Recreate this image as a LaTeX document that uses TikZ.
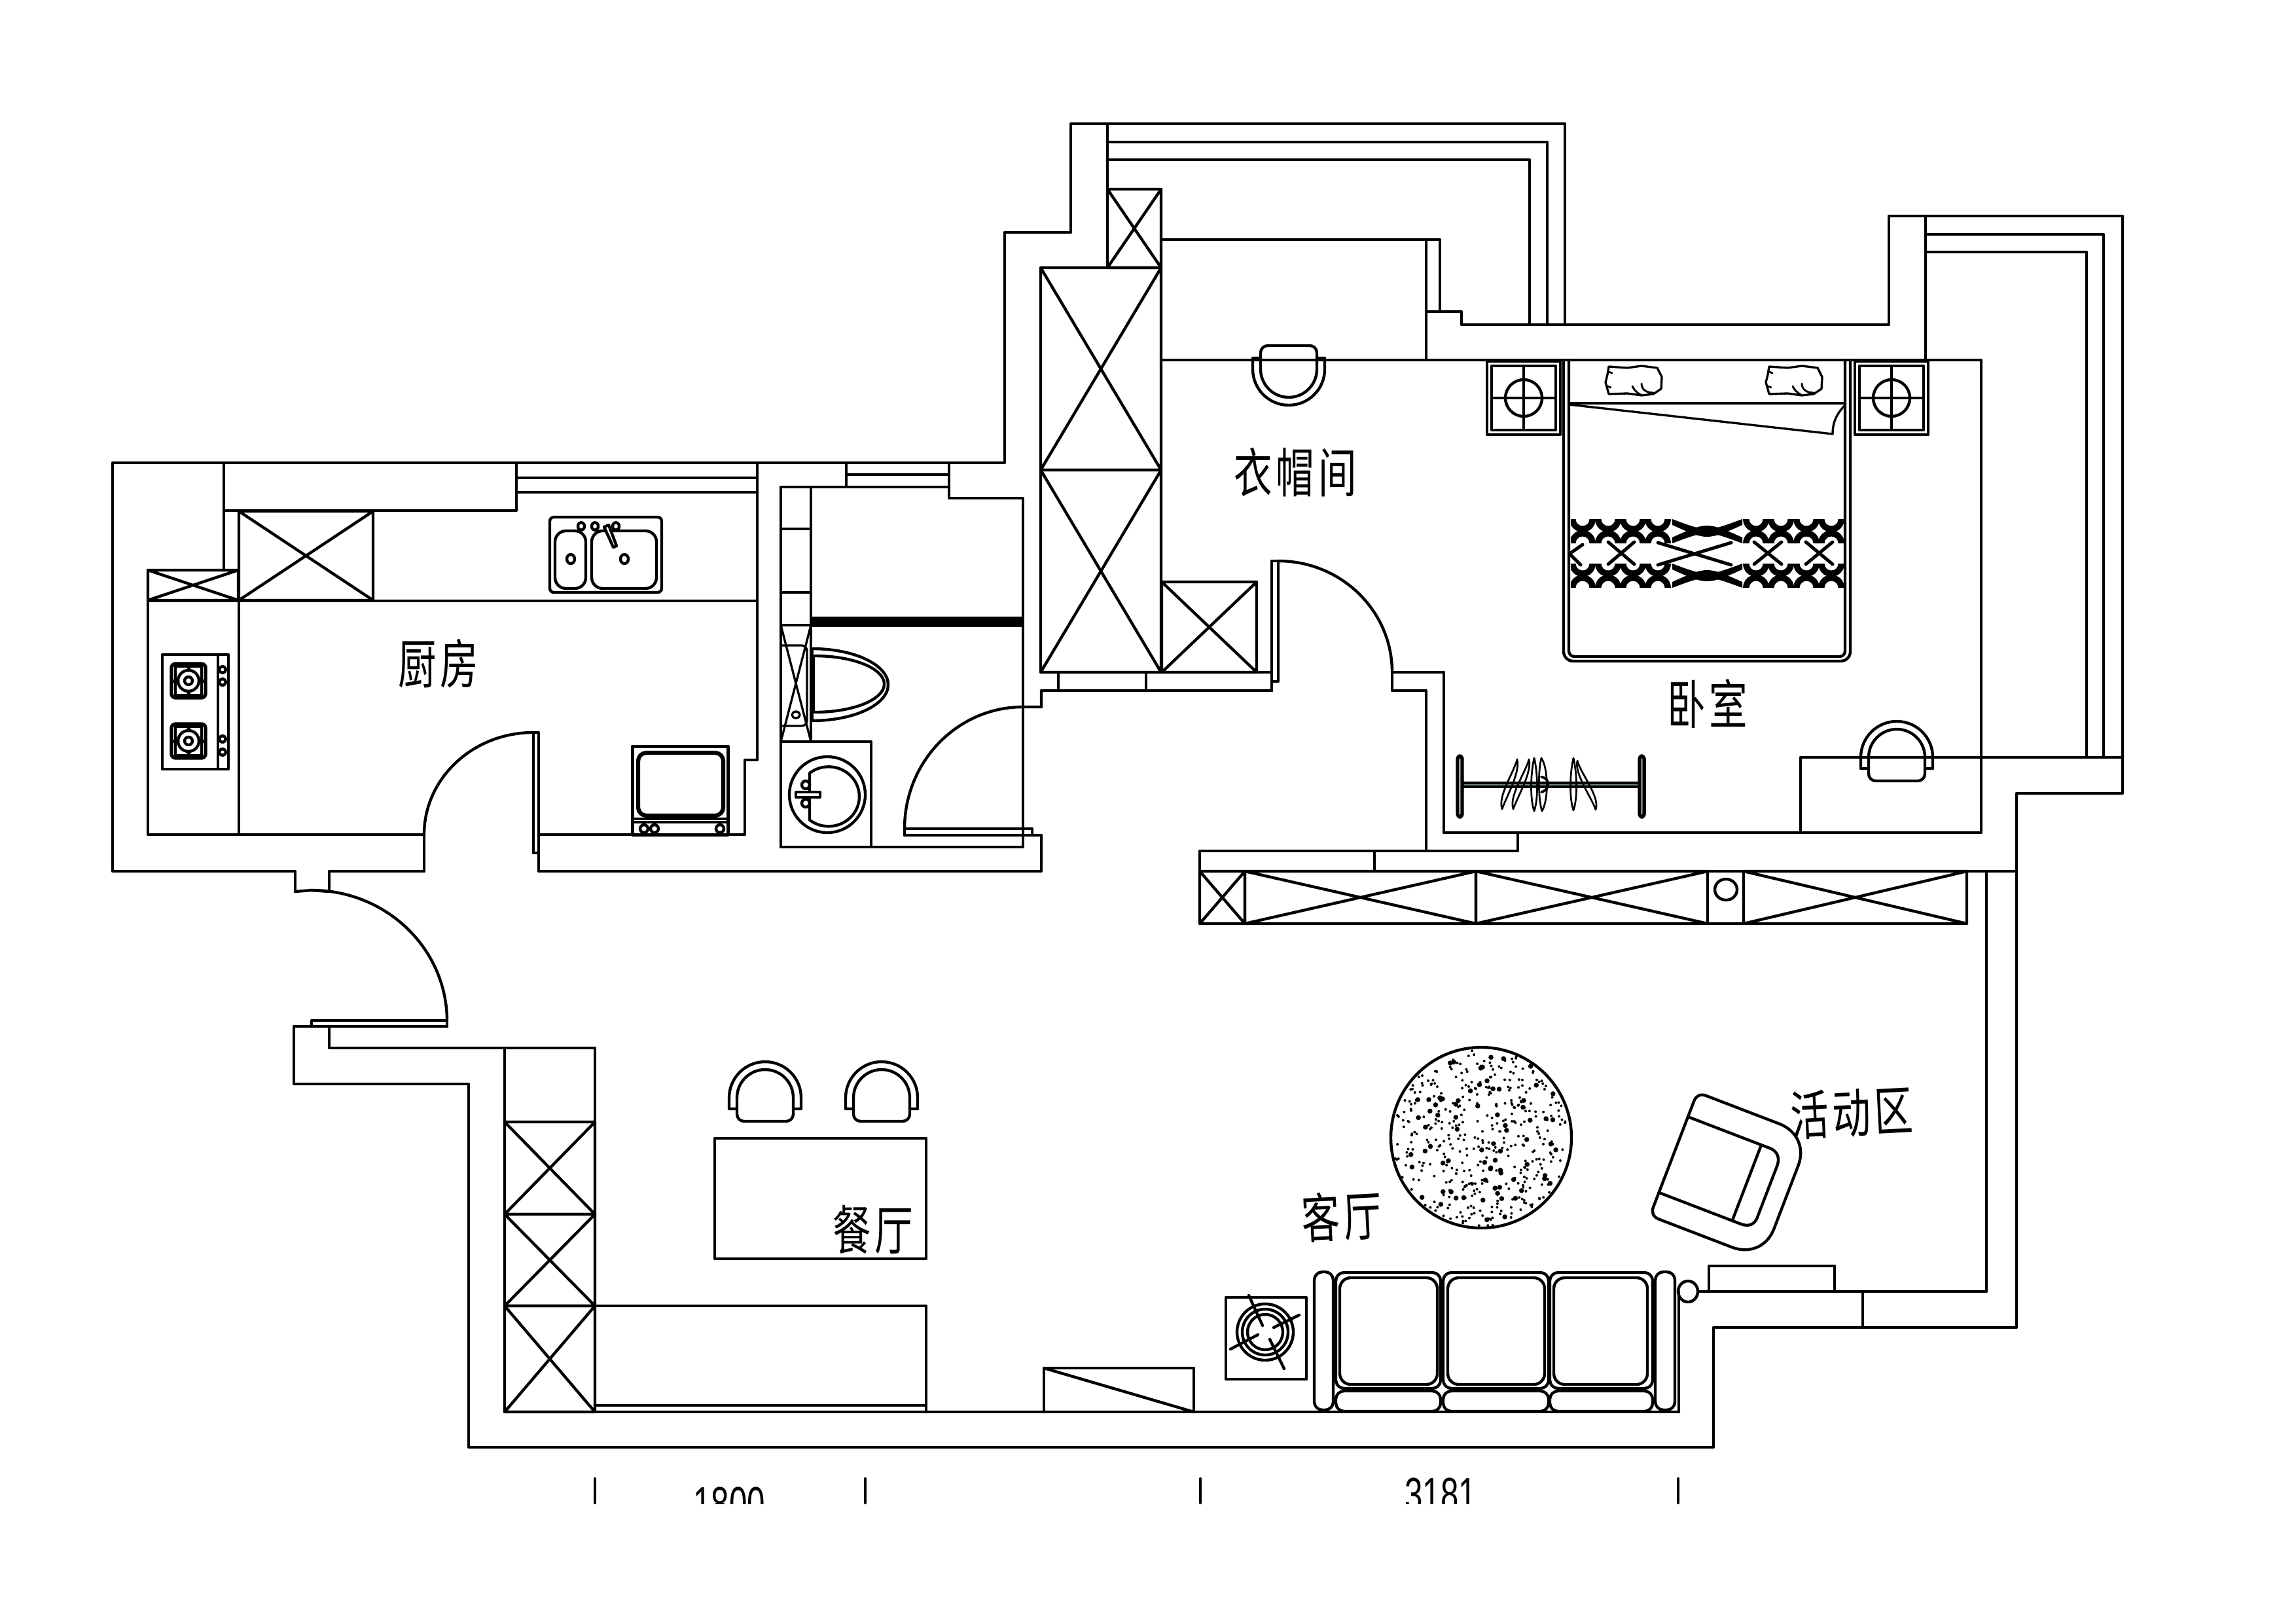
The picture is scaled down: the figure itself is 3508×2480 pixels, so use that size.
\documentclass[tikz,border=0pt]{standalone}
\usepackage{fontspec}
\usepackage{graphicx}
\setmainfont{Liberation Sans}
\newfontfamily\cjk{Noto Sans CJK SC}
\definecolor{rodgray}{HTML}{6F8080}
\newcommand\crossbox[4]{\draw (#1,#2) rectangle (#3,#4) (#1,#2)--(#3,#4) (#1,#4)--(#3,#2);}
\newcommand\chairat[3]{\begin{scope}[shift={(#1,#2)},yscale=#3]
 \draw (-43,0)--(-55,0)--(-55,-17) arc[start angle=180,end angle=360,radius=55]--(55,0)--(43,0);
 \draw (-43,-17) arc[start angle=180,end angle=360,radius=43] [rounded corners=2.6pt]--(43,19)--(-43,19)--(-43,-17);
 \end{scope}}
\newcommand\burnerat[2]{\begin{scope}[shift={(#1,#2)}]
 \draw[line width=1.3pt,rounded corners=1.5pt] (-26,-26) rectangle (26,26);
 \draw (-20,-22) rectangle (20,22);
 \draw (0,0) circle[radius=16];
 \draw (0,0) circle[radius=6];
 \draw[line width=1.2pt] (0,-24)--(0,-16) (0,16)--(0,24) (-24,0)--(-16,0) (16,0)--(24,0);
 \end{scope}}
\newcommand\nightstand[2]{\begin{scope}[shift={(#1,#2)}]
 \draw (-56,-56) rectangle (56,56);
 \draw (-49,-49) rectangle (49,49);
 \draw (-49,0)--(49,0) (0,-49)--(0,49);
 \draw (0,0) circle[radius=28];
 \end{scope}}
\newcommand\pillowat[2]{\begin{scope}[shift={(#1,#2)}]
 \draw[line width=0.8pt] (-38,-22)--(-10,-20)--(12,-23)--(36,-20)--(43,-6)--(42,12)--(30,20)--(12,22)--(-10,19)--(-38,20)--(-43,2)--(-40,-10)--cycle;
 \draw[line width=0.7pt] (-38,-14)--(-33,-12) (-40,8)--(-35,10);
 \draw[line width=0.7pt] (12,22) .. controls (2,16) and (0,12) .. (-2,8);
 \draw[line width=0.7pt] (30,18) .. controls (18,18) and (12,12) .. (12,4);
 \end{scope}}
% one black X of the bedspread band: half rings round the top and bottom edge of a row
\newcommand\bandx[2]{%
 \fill (#1-20,#2) arc[start angle=180,end angle=0,radius=20]--(#1+10.5,#2) arc[start angle=0,end angle=180,radius=10.5]--cycle;
 \fill (#1-20,#2+37) arc[start angle=180,end angle=360,radius=20]--(#1+10.5,#2+37) arc[start angle=360,end angle=180,radius=10.5]--cycle;}
% the two long crescents in the middle of the band
\newcommand\bandlens[1]{%
 \fill (2555,#1) .. controls (2608,#1+20) .. (2662,#1)--(2662,#1+9) .. controls (2608,#1+33) .. (2555,#1+9)--cycle;
 \fill (2555,#1+37) .. controls (2608,#1+17) .. (2662,#1+37)--(2662,#1+28) .. controls (2608,#1+4) .. (2555,#1+28)--cycle;}
\newcommand\hangerat[4]{\draw[line width=0.65pt] (#1,#2) .. controls (#1+5,#2+20) and (#3+7,#4-20) .. (#3,#4) .. controls (#3-7,#4-20) and (#1-5,#2+20) .. (#1,#2);}
\tikzset{thinline/.style={line width=0.8pt},
 roomlabel/.style={inner sep=0pt,font=\cjk\fontsize{19.5}{20}\selectfont},
 dimlabel/.style={inner sep=0pt,anchor=base,font=\fontsize{17.4}{18}\selectfont}}
\newcommand\squeezed[1]{\scalebox{0.72}[1]{#1}}
\begin{document}
\begin{tikzpicture}[x=0.24pt,y=-0.24pt,line width=1.05pt,line cap=round,line join=round]
\useasboundingbox (0,0) rectangle (3508,2480);
% ---------- kitchen walls
\draw (451,1362)--(451,1331)--(172,1331)--(172,707)--(1535,707)--(1535,355)--(1636,355)--(1636,189)--(2391,189)--(2391,496);
\draw (226,871)--(226,1275)--(648,1275)--(648,1331);
\draw (503,1331)--(648,1331) (503,1331)--(503,1362);
\draw (342,707)--(342,871) (342,780)--(789,780)--(789,707);
\draw (789,730)--(1157,730) (789,752)--(1157,752);
\crossbox{365}{781}{570}{917}
\crossbox{226}{871}{364}{917}
\draw (226,918)--(1157,918);
\draw (365,917)--(365,1275);
\draw (1157,707)--(1157,1161)--(1138,1161)--(1138,1275)--(823,1275)--(823,1331)--(1591,1331)--(1591,1276)--(1382,1276);
% kitchen door
\draw (815,1303)--(815,1119)--(823,1119)--(823,1303)--(815,1303);
\draw (648,1275) arc[start angle=180,end angle=270,x radius=167,y radius=156];
% stove
\draw (248,1000) rectangle (349,1175);
\draw (333,1000)--(333,1175);
\burnerat{288}{1040}
\burnerat{288}{1132}
\foreach \yy in {1023,1042,1129,1149} \draw (340,\yy) circle[radius=5];
% sink
\draw[rounded corners=1.5pt] (840,790) rectangle (1011,905);
\draw[rounded corners=4pt] (848,811) rectangle (895,899);
\draw[rounded corners=4pt] (904,811) rectangle (1003,899);
\draw (872,854) circle[x radius=6,y radius=7];
\draw (954,854) circle[x radius=6,y radius=7];
\draw (888,804) circle[x radius=5,y radius=6];
\draw (909,804) circle[x radius=5,y radius=6];
\draw (941,804) circle[x radius=5,y radius=6];
\draw[fill=white] (923,805)--(930,802)--(942,834)--(937,836)--cycle;
% oven
\draw[line width=1.2pt] (966,1140) rectangle (1112,1275);
\draw[line width=1.5pt,rounded corners=3pt] (975,1150) rectangle (1105,1246);
\draw (966,1251)--(1112,1251) (966,1256)--(1112,1256);
\foreach \xx in {984,1000,1100} \draw (\xx,1266) circle[radius=6];
% ---------- bathroom
\draw (1293,707)--(1293,744) (1450,707)--(1450,761)--(1563,761)--(1563,1294);
\draw (1293,725)--(1450,725);
\draw (1193,744)--(1450,744);
\draw (1193,744) rectangle (1239,1133);
\draw (1193,808)--(1239,808) (1193,905)--(1239,905) (1193,955)--(1239,955);
\draw[thinline] (1193,955)--(1239,1133) (1239,955)--(1193,1133);
\fill (1239,942) rectangle (1563,958);
\draw[thinline,rounded corners=2pt] (1195,986)--(1233,986)--(1233,1109)--(1195,1109);
\draw[thinline] (1216,1092) circle[x radius=6,y radius=5];
\draw (1241,991) arc[start angle=-90,end angle=90,x radius=116,y radius=55];
\draw (1245,1002) arc[start angle=-90,end angle=90,x radius=106,y radius=43];
\draw (1241,991)--(1241,1101);
\fill (1241,1002) rectangle (1245,1088);
% basin
\draw (1193,1133) rectangle (1331,1294);
\draw (1193,1294)--(1563,1294);
\draw (1264,1214) circle[x radius=58,y radius=58];
\draw (1237,1248)--(1237,1181) arc[start angle=-128,end angle=128,x radius=47,y radius=45.5]--cycle;
\draw[fill=white] (1216,1210) rectangle (1253,1218);
\draw (1231,1199) circle[radius=6];
\draw (1231,1227) circle[radius=6];
% bath door
\draw (1382,1276)--(1382,1266)--(1577,1266)--(1577,1276)--(1591,1276);
\draw (1382,1266) arc[start angle=180,end angle=270,x radius=181,y radius=186]--(1591,1080)--(1591,1055)--(1943,1055);
% ---------- closet
\crossbox{1590}{409}{1774}{718}
\crossbox{1590}{718}{1774}{1027}
\crossbox{1692}{289}{1774}{409}
\draw (1692,189)--(1692,289);
\draw (1692,217)--(2364,217)--(2364,496) (1692,244)--(2337,244)--(2337,496);
\crossbox{1775}{889}{1920}{1027}
\draw (1920,1027)--(1943,1027);
\draw (1617,1027)--(1617,1055) (1751,1027)--(1751,1055);
\draw (1943,1055)--(1943,857)--(1953,857)--(1953,1041)--(1943,1041);
\draw (1953,857) arc[start angle=270,end angle=360,x radius=174,y radius=170];
\draw (2127,1027)--(2127,1055)--(2179,1055)--(2179,1300);
\draw (2127,1027)--(2206,1027)--(2206,1272);
\draw (1774,366)--(2200,366)--(2200,476);
\draw (2179,366)--(2179,550);
\draw (2179,476)--(2233,476)--(2233,496)--(2886,496)--(2886,330)--(3243,330)--(3243,1212)--(3081,1212)--(3081,2028)--(2618,2028)--(2618,2211)--(716,2211)--(716,1656)--(449,1656)--(449,1568)--(683,1568);
\draw (1774,550)--(3027,550)--(3027,1272)--(2206,1272);
\draw (2942,330)--(2942,549);
\draw (2942,358)--(3214,358)--(3214,1157) (2942,385)--(3188,385)--(3188,1157);
\draw (2751,1272)--(2751,1157)--(3243,1157);
% wardrobe chair and desk chair
\chairat{1969}{547}{-1}
\chairat{2898}{1174}{1}
% nightstands
\nightstand{2328}{608}
\nightstand{2890}{608}
% ---------- bed
\draw[rounded corners=3.5pt] (2389,550)--(2389,1010)--(2827,1010)--(2827,550);
\draw[rounded corners=2pt] (2397,550)--(2397,1003)--(2819,1003)--(2819,550);
\draw (2397,616)--(2819,616);
\draw[thinline] (2397,618)--(2800,663) .. controls (2800,645) and (2806,632) .. (2819,619);
\pillowat{2496}{582}
\pillowat{2741}{582}
\begin{scope}
 \clip (2400,790) rectangle (2818,900);
 \foreach \xx in {2418,2457,2495,2533,2683,2721,2760,2798} {
  \bandx{\xx}{793}
  \bandx{\xx}{861}}
 \bandlens{793}
 \bandlens{861}
\end{scope}
\draw[line width=1.2pt] (2457,828)--(2497,862) (2497,828)--(2457,862);
\draw[line width=1.2pt] (2680,828)--(2722,862) (2722,828)--(2680,862);
\draw[line width=1.2pt] (2759,828)--(2800,862) (2800,828)--(2759,862);
\draw[line width=1.2pt] (2418,832)--(2398,846)--(2415,863);
\draw[line width=1.2pt] (2533,829)--(2645,863) (2533,863)--(2645,829);
% clothes rack
\fill[rodgray] (2231,1196) rectangle (2508,1202);
\draw (2231,1196)--(2508,1196) (2231,1202)--(2508,1202);
\draw[line width=1.3pt,fill=white,rounded corners=1pt] (2227,1155) rectangle (2234,1248);
\draw[line width=1.3pt,fill=white,rounded corners=1pt] (2505,1155) rectangle (2512,1248);
\hangerat{2318}{1160}{2295}{1236}
\hangerat{2336}{1160}{2312}{1236}
\hangerat{2344}{1158}{2344}{1239}
\draw[line width=0.65pt] (2355,1158) .. controls (2366,1175) and (2366,1222) .. (2356,1239) .. controls (2350,1222) and (2350,1175) .. (2355,1158);
\draw[line width=0.9pt] (2355,1187) .. controls (2362,1188) and (2365,1192) .. (2365,1198) .. controls (2365,1204) and (2362,1208) .. (2355,1210);
\hangerat{2404}{1158}{2404}{1238}
\hangerat{2410}{1162}{2438}{1237}
% ---------- TV cabinet
\draw (2319,1272)--(2319,1300)--(1833,1300)--(1833,1331);
\draw (2100,1300)--(2100,1331);
\draw (1833,1331)--(3081,1331);
\crossbox{1833}{1331}{1902}{1411}
\crossbox{1902}{1331}{2255}{1411}
\crossbox{2255}{1331}{2609}{1411}
\draw (2609,1331) rectangle (2664,1411);
\draw (2637,1359) circle[x radius=17,y radius=16];
\crossbox{2664}{1331}{3005}{1411}
\draw (3035,1331)--(3035,1973)--(2596,1973);
\draw (2611,1973)--(2611,1934)--(2803,1934)--(2803,1973);
\draw (2846,1973)--(2846,2028);
% rug
\draw (2263,1738) circle[radius=138];
\pgfmathsetseed{2718}
\foreach \i in {1,...,400} {
 \pgfmathsetmacro\rr{135*sqrt(rnd)}
 \pgfmathsetmacro\aa{360*rnd}
 \fill (2263,1738) ++(\aa:\rr) circle[radius=2];
}
\foreach \i in {1,...,75} {
 \pgfmathsetmacro\rr{133*sqrt(rnd)}
 \pgfmathsetmacro\aa{360*rnd}
 \fill (2263,1738) ++(\aa:\rr) circle[radius=3.8];
}
% armchair
\begin{scope}[shift={(2643,1796)},rotate=-21]
 \draw (-92,-101+14) .. controls (-92,-95) and (-87,-101) .. (-78,-101)--(42,-101) .. controls (72,-101) and (92,-80) .. (92,-52)--(92,52) .. controls (92,80) and (72,101) .. (42,101)--(-78,101) .. controls (-87,101) and (-92,95) .. (-92,87)--cycle;
 \draw (-92,-61)--(42,-61) .. controls (55,-61) and (62,-52) .. (62,-40)--(62,45) .. controls (62,56) and (55,63) .. (42,63)--(-92,63);
 \draw (28,-61)--(28,63);
\end{scope}
% sofa
\draw[rounded corners=3pt] (2008,1943) rectangle (2037,2154);
\draw[rounded corners=3pt] (2529,1943) rectangle (2559,2154);
\foreach \a/\b/\c/\d in {2041/2201/2047/2196,2205/2366/2212/2360,2368/2525/2374/2517} {
 \draw[rounded corners=3pt] (\a,1944) rectangle (\b,2121);
 \draw[rounded corners=4pt] (\c,1952) rectangle (\d,2115);
 \draw[rounded corners=3pt] (\a,2125) rectangle (\b,2156);
}
\draw (2579,1973) circle[x radius=15,y radius=16];
\draw (2565,1973)--(2565,2157);
% side table
\draw (1873,1982) rectangle (1996,2107);
\draw (1933,2035) circle[radius=43];
\draw (1933,2035) circle[radius=35];
\draw (1933,2035) circle[radius=27];
\draw (1908,1979)--(1929,2025) (1985,2009)--(1946,2028) (1922,2039)--(1880,2061) (1940,2046)--(1962,2091);
% box
\draw (1595,2157)--(1595,2090)--(1824,2090)--(1824,2157);
\draw (1595,2090)--(1824,2157);
% ---------- living/dining
\draw (771,2157)--(2565,2157);
\draw (503,1568)--(503,1601)--(771,1601);
\draw (476,1568)--(476,1559)--(683,1559)--(683,1568);
\draw (476,1360) arc[start angle=270,end angle=360,x radius=207,y radius=200];
\draw (451,1362)--(476,1360) (503,1362)--(476,1360);
\draw (771,1601) rectangle (909,1714);
\crossbox{771}{1714}{909}{1855}
\crossbox{771}{1855}{909}{1995}
\crossbox{771}{1995}{909}{2157}
\draw (909,1995)--(1415,1995)--(1415,2157);
\draw (909,2147)--(1415,2147);
\draw (1092,1739) rectangle (1415,1923);
\chairat{1169}{1694}{1}
\chairat{1347}{1694}{1}
% ---------- dimensions
\begin{scope}
 \clip (0,0) rectangle (3508,2297);
 \node[dimlabel] (dimA) at (1114,2322) {\scalebox{0.68}[1]{1800}};
 \node[dimlabel] (dimB) at (2201,2308) {\scalebox{0.68}[1]{3181}};
\end{scope}
\draw (909,2259)--(909,2296) (1322,2259)--(1322,2296) (1834,2259)--(1834,2296) (2564,2259)--(2564,2296);
% ---------- labels
\node[roomlabel] (kitchen) at (670,1014) {\squeezed{厨\hspace{0.1em}房}};
\node[roomlabel] (wardrobe) at (1979,721) {\squeezed{衣\hspace{0.1em}帽\hspace{0.1em}间}};
\node[roomlabel] (bedroom) at (2609,1075) {\squeezed{卧\hspace{0.1em}室}};
\node[roomlabel] (dining) at (1334,1878) {\squeezed{餐\hspace{0.1em}厅}};
\node[roomlabel,rotate=3] (living) at (2050,1858) {\squeezed{客\hspace{0.1em}厅}};
\node[roomlabel,rotate=3] (activity) at (2829,1700) {\squeezed{活\hspace{0.1em}动\hspace{0.1em}区}};
\end{tikzpicture}
\end{document}
